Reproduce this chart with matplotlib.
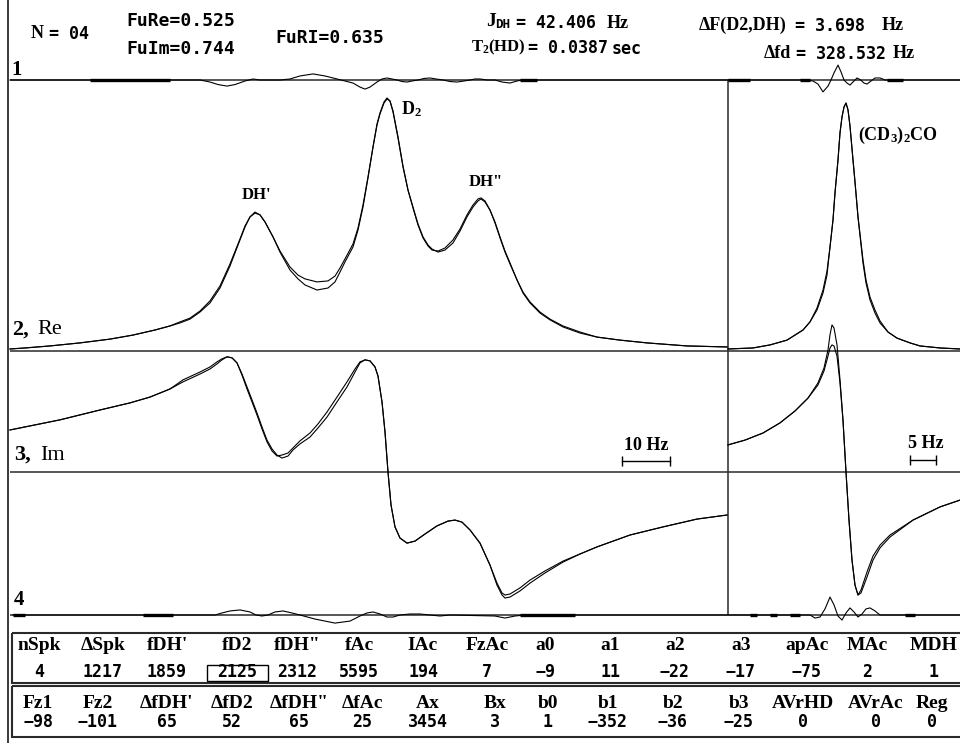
import matplotlib
matplotlib.use("Agg")
from matplotlib import pyplot as plt
from matplotlib.patches import Rectangle

# spectral point index, 2 points per screen column
re_idx = [1371, 1401, 1451, 1511, 1571, 1617, 1661, 1691, 1711, 1731,
          1751, 1771, 1791, 1811, 1831, 1841, 1851, 1861, 1871, 1881,
          1897, 1911, 1931, 1947, 1961, 1985, 2007, 2021, 2031, 2041,
          2057, 2067, 2077, 2087, 2097, 2105, 2111, 2119, 2125, 2131,
          2137, 2147, 2157, 2167, 2177, 2187, 2197, 2207, 2215, 2227,
          2241, 2257, 2271, 2285, 2297, 2307, 2313, 2321, 2331, 2341,
          2351, 2361, 2371, 2385, 2397, 2411, 2431, 2451, 2477, 2511,
          2545, 2591, 2645, 2725, 2805]
# Re spectrum, % of D2 peak
re_exp = [0.8, 1.2, 2.0, 3.2, 4.7, 6.3, 8.3, 9.9, 11.1, 12.6,
          15.4, 19.0, 24.9, 33.6, 43.9, 49.0, 53.0, 54.5, 53.8, 51.0,
          45.1, 39.1, 32.0, 28.5, 26.1, 24.1, 24.9, 27.3, 31.2, 35.2,
          41.1, 47.8, 56.9, 68.4, 80.6, 89.7, 94.1, 98.4, 100.0, 98.8,
          94.5, 84.2, 72.7, 63.6, 56.9, 50.2, 45.1, 41.9, 40.3, 39.1,
          39.9, 42.7, 47.4, 53.0, 56.9, 59.3, 60.1, 58.9, 55.7, 51.0,
          45.1, 39.5, 34.8, 28.1, 22.9, 19.0, 15.0, 12.3, 9.5, 7.1,
          5.5, 4.3, 3.2, 2.0, 1.6]
re_fit = [0.8, 1.2, 2.0, 3.2, 4.7, 6.3, 8.3, 9.9, 11.5, 13.0,
          15.8, 19.8, 25.7, 34.4, 44.3, 49.4, 53.0, 54.9, 53.8, 51.0,
          45.1, 39.5, 33.2, 30.0, 28.5, 27.3, 27.7, 29.6, 32.8, 36.4,
          42.3, 48.6, 57.7, 68.8, 80.6, 89.3, 93.7, 98.0, 99.6, 98.8,
          94.9, 84.6, 73.1, 63.6, 56.5, 49.8, 44.7, 41.5, 39.9, 39.5,
          40.7, 43.9, 48.2, 53.8, 57.7, 60.1, 60.5, 59.3, 55.7, 50.6,
          44.7, 39.1, 34.4, 28.1, 23.3, 19.4, 15.4, 12.6, 9.9, 7.5,
          5.5, 4.3, 3.2, 2.0, 1.6]

im_idx = [1371, 1411, 1471, 1551, 1611, 1651, 1691, 1717, 1751, 1771,
          1785, 1795, 1805, 1815, 1825, 1835, 1845, 1855, 1865, 1875,
          1885, 1895, 1905, 1915, 1927, 1937, 1951, 1971, 1987, 2005,
          2025, 2045, 2061, 2071, 2081, 2091, 2101, 2107, 2115, 2121,
          2127, 2133, 2141, 2151, 2165, 2181, 2201, 2225, 2247, 2261,
          2275, 2291, 2311, 2331, 2345, 2355, 2361, 2371, 2391, 2411,
          2441, 2477, 2511, 2545, 2611, 2677, 2745, 2805]
im_exp = [16.6, 18.2, 20.6, 24.5, 27.3, 29.6, 32.8, 36.4, 39.5, 41.5,
          43.5, 44.7, 45.5, 45.1, 43.1, 38.7, 33.6, 28.5, 23.3, 17.8,
          12.6, 9.1, 6.7, 5.5, 6.3, 8.7, 11.1, 13.8, 17.4, 21.7,
          27.7, 33.6, 39.5, 43.1, 44.3, 43.9, 41.5, 37.9, 27.7, 15.8,
          0.0, -13.0, -21.7, -26.1, -28.1, -27.3, -24.5, -21.3, -19.4, -19.0,
          -19.8, -22.9, -28.1, -36.8, -44.7, -48.6, -49.8, -49.4, -47.0, -43.9,
          -39.9, -35.6, -32.4, -29.6, -24.9, -21.7, -18.6, -17.0]
im_fit = [16.6, 18.2, 20.6, 24.5, 27.3, 29.6, 32.8, 35.6, 38.7, 40.7,
          42.7, 44.3, 45.5, 45.1, 43.1, 38.3, 32.8, 27.7, 22.5, 17.0,
          11.9, 8.3, 6.3, 6.7, 7.5, 9.5, 12.3, 15.4, 19.0, 23.7,
          29.6, 35.6, 40.7, 43.5, 44.3, 43.9, 41.5, 37.9, 27.7, 15.8,
          0.0, -13.0, -21.7, -26.1, -28.1, -27.3, -24.5, -21.3, -19.4, -19.0,
          -19.8, -22.9, -28.1, -36.8, -43.9, -47.8, -48.6, -48.2, -45.8, -42.7,
          -39.1, -35.2, -32.4, -29.6, -24.9, -21.7, -18.6, -17.0]

# acetone-d6 window
ac_re_idx = [5359, 5409, 5443, 5477, 5509, 5523, 5537, 5549, 5557, 5563,
             5569, 5573, 5579, 5583, 5587, 5591, 5595, 5599, 5603, 5609,
             5613, 5619, 5629, 5635, 5643, 5653, 5663, 5679, 5697, 5723,
             5743, 5783, 5823]
ac_re_exp = [0.8, 1.2, 2.4, 4.3, 8.3, 11.5, 16.2, 22.9, 30.0, 41.1,
             51.8, 62.5, 75.5, 86.2, 92.5, 96.4, 98.0, 95.3, 88.9, 75.5,
             66.8, 53.0, 34.8, 26.9, 20.2, 15.0, 11.1, 7.5, 5.1, 3.2,
             2.0, 1.2, 0.8]
ac_re_fit = [0.8, 1.2, 2.4, 4.3, 8.3, 11.5, 17.0, 24.1, 31.6, 41.1,
             51.8, 62.5, 75.5, 86.2, 92.5, 96.4, 98.0, 95.3, 88.9, 75.5,
             66.8, 53.0, 36.0, 28.1, 21.3, 16.2, 11.9, 7.5, 5.1, 3.2,
             2.0, 1.2, 0.8]

ac_im_idx = [5359, 5393, 5429, 5463, 5493, 5519, 5539, 5551, 5559, 5563,
             5567, 5571, 5577, 5583, 5589, 5595, 5601, 5607, 5613, 5619,
             5625, 5637, 5649, 5663, 5683, 5729, 5783, 5823]
ac_im_exp = [10.7, 12.6, 15.4, 19.4, 24.1, 29.2, 35.2, 41.1, 48.2, 54.2,
             58.1, 56.9, 50.2, 36.4, 20.6, 0.0, -19.0, -34.8, -44.7, -48.6,
             -47.8, -41.5, -34.8, -30.0, -25.7, -19.0, -13.8, -11.1]
ac_im_fit = [10.7, 12.6, 15.4, 19.4, 24.1, 29.2, 34.4, 39.9, 45.8, 49.0,
             50.2, 49.8, 45.8, 35.2, 20.2, 0.0, -19.0, -34.8, -44.7, -48.6,
             -46.6, -39.5, -33.2, -28.9, -24.9, -19.0, -13.8, -11.1]

# residuals (exp - fit), same % scale
res_re_idx = [1371, 1751, 1771, 1787, 1805, 1821, 1841, 1857, 1871, 1911,
              1931, 1951, 1977, 2001, 2025, 2041, 2057, 2071, 2081, 2091,
              2105, 2115, 2125, 2135, 2145, 2155, 2165, 2175, 2187, 2199,
              2211, 2223, 2237, 2251, 2265, 2279, 2291, 2301, 2311, 2325,
              2341, 2355, 2371, 2385, 2395, 2805]
res_re = [0, 0, -0.8, -1.8, -2.4, -1.8, -0.4, 0.4, 0, 0,
          0.4, 1.6, 2.4, 1.6, 0.4, -0.4, -1.2, -2.8, -3.6, -2.8,
          -0.8, 0.4, 0.8, 0.4, 0, -0.6, -0.8, -0.4, 0, 0.6,
          0.8, 0.4, 0, -0.6, -0.8, -0.4, 0, 0.4, 0.4, 0,
          0, -0.8, -1.2, -0.4, 0, 0]
res_im_idx = [1377, 1711, 1781, 1795, 1811, 1831, 1851, 1863, 1875, 1887,
              1901, 1917, 1935, 1951, 1981, 2021, 2051, 2071, 2085, 2097,
              2111, 2125, 2137, 2151, 2171, 2191, 2211, 2231, 2251, 2341,
              2361, 2381, 2401, 2805]
res_im = [0, 0, 0, 0.8, 1.6, 2.0, 1.2, 0, -0.4, 0,
          1.2, 1.6, 0.8, 0, -1.6, -3.2, -2.4, -0.4, 0.8, 1.2,
          0.4, -0.8, -0.8, 0, 0.4, 0.4, 0, -0.4, 0, -0.4,
          -1.2, -0.4, 0, 0]
ac_res_re_idx = [5359, 5513, 5529, 5539, 5549, 5559, 5565, 5571, 5579, 5585,
                 5591, 5597, 5603, 5609, 5617, 5623, 5631, 5637, 5645, 5653,
                 5663, 5673, 5823]
ac_res_re = [0, 0, -0.4, -1.6, -4.7, -2.4, 0, 2.8, 5.9, 3.2,
             0, -1.2, -2.0, -0.8, 0.8, 0.2, -1.2, -1.6, -0.4, 0.8,
             0.8, 0, 0]
ac_res_im_idx = [5359, 5523, 5533, 5543, 5553, 5563, 5571, 5579, 5587, 5595,
                 5603, 5611, 5619, 5627, 5635, 5643, 5653, 5663, 5823]
ac_res_im = [0, 0, -1.2, -0.8, 2.4, 7.1, 4.0, -0.4, -2.0, 0.8,
             2.8, 1.2, -0.8, 0.4, 2.4, 2.8, 1.6, 0, 0]

# baseline regions (thick marks on residual lines)
base_re = [(1531, 1691), (2391, 2425)]
base_im = [(1377, 1401), (1637, 1697), (2391, 2501)]
ac_base_re = [(5359, 5403), (5503, 5523), (5677, 5709)]
ac_base_im = [(5403, 5417), (5443, 5457), (5483, 5503), (5713, 5733)]

# parameter table
head1 = ["nSpk", "\u0394Spk", "fDH'", "fD2", 'fDH"', "fAc", "IAc", "FzAc",
         "a0", "a1", "a2", "a3", "apAc", "MAc", "MDH"]
vals1 = ["4", "1217", "1859", "2125", "2312", "5595", "194", "7",
         "\u22129", "11", "\u221222", "\u221217", "\u221275", "2", "1"]
head2 = ["Fz1", "Fz2", "\u0394fDH'", "\u0394fD2", '\u0394fDH"', "\u0394fAc", "Ax", "Bx",
         "b0", "b1", "b2", "b3", "AVrHD", "AVrAc", "Reg"]
vals2 = ["\u221298", "\u2212101", "65", "52", "65", "25", "3454", "3",
         "1", "\u2212352", "\u221236", "\u221225", "0", "0", "0"]

W, H = 960, 743
SERIF = "Liberation Serif"
MONO = "DejaVu Sans Mono"
LW = 0.8


def px_axes(fig, x0, y0, x1, y1, xlim, ylim):
    ax = fig.add_axes([x0 / W, 1 - y1 / H, (x1 - x0) / W, (y1 - y0) / H])
    ax.set_xlim(*xlim)
    ax.set_ylim(*ylim)
    ax.axis("off")
    ax.patch.set_alpha(0)
    return ax


def curves(ax, x, *ys):
    for y in ys:
        ax.plot(x, y, color="black", lw=LW, clip_on=False)


def resid(ax, x, y, regions):
    ax.plot(x, y, color="black", lw=LW, clip_on=False)
    for a, b in regions:
        ax.plot([a, b], [0, 0], color="black", lw=2.4, solid_capstyle="butt")


def main():
    plt.rcParams["mathtext.fontset"] = "custom"
    plt.rcParams["mathtext.rm"] = SERIF + ":bold"
    plt.rcParams["mathtext.it"] = SERIF + ":bold"
    plt.rcParams["mathtext.bf"] = SERIF + ":bold"

    fig = plt.figure(figsize=(W / 100, H / 100), dpi=100)
    fig.patch.set_facecolor("white")

    frame = fig.add_axes([0, 0, 1, 1])
    frame.set_xlim(0, W)
    frame.set_ylim(H, 0)
    frame.axis("off")

    fc = "#2a2a2a"
    frame.plot([7.5, 7.5], [0, H], color=fc, lw=1.3)
    frame.hlines([80, 351, 472, 615], 10, W, color=fc, lw=1.1)
    frame.vlines(728, 80, 615, color=fc, lw=1.1)
    for y0, y1 in [(633, 683), (686, 737)]:
        frame.add_patch(Rectangle((12, y0), W, y1 - y0, fill=False, ec=fc, lw=1.5))
    frame.add_patch(Rectangle((207, 665), 61, 16, fill=False, ec="black", lw=1.0))

    xl = (1371, 2807)
    xr = (5359, 5823)
    re_lim = (0, 107.1)
    im_lim = (-56.5, 47.8)
    res_lim = (-11.86, 11.86)

    ax = px_axes(fig, 10, 80, 728, 351, xl, re_lim)
    curves(ax, re_idx, re_exp, re_fit)
    ax = px_axes(fig, 10, 351, 728, 615, xl, im_lim)
    curves(ax, im_idx, im_exp, im_fit)
    ax = px_axes(fig, 10, 50, 728, 110, xl, res_lim)
    resid(ax, res_re_idx, res_re, base_re)
    ax = px_axes(fig, 10, 585, 728, 645, xl, res_lim)
    resid(ax, res_im_idx, res_im, base_im)

    ax = px_axes(fig, 728, 80, 960, 351, xr, re_lim)
    curves(ax, ac_re_idx, ac_re_exp, ac_re_fit)
    ax = px_axes(fig, 728, 351, 960, 615, xr, im_lim)
    curves(ax, ac_im_idx, ac_im_exp, ac_im_fit)
    ax = px_axes(fig, 728, 50, 960, 110, xr, res_lim)
    resid(ax, ac_res_re_idx, ac_res_re, ac_base_re)
    ax = px_axes(fig, 728, 585, 960, 645, xr, res_lim)
    resid(ax, ac_res_im_idx, ac_res_im, ac_base_im)

    # header annotations
    def t(x, y, s, fam=SERIF, size=12, weight="bold", ha="left"):
        frame.text(x, y, s, family=fam, fontsize=size, fontweight=weight,
                   ha=ha, va="center", color="black")

    t(31, 33, "N", size=13)
    t(49, 34, "= 04", MONO, 12)
    t(126, 21, "FuRe=0.525", MONO, 13)
    t(126, 49, "FuIm=0.744", MONO, 13)
    t(275, 38, "FuRI=0.635", MONO, 13)
    t(486, 22, "J", size=14)
    t(495, 24, "DH", MONO, 9)
    t(516, 23, "= 42.406", MONO, 12)
    t(607, 23, "Hz", size=13)
    t(471, 47, "T$_2$(HD)", size=12)
    t(528, 48, "= 0.0387", MONO, 12)
    t(612, 49, "sec", MONO, 12)
    t(699, 25, "\u0394F(D2,DH)", size=13)
    t(795, 26, "= 3.698", MONO, 12)
    t(882, 25, "Hz", size=13)
    t(764, 53, "\u0394fd", size=13)
    t(796, 54, "= 328.532", MONO, 12)
    t(893, 53, "Hz", size=13)

    # panel labels
    t(11, 70, "1", size=15)
    t(12, 330, "2,", size=16)
    t(37, 330, "Re", size=16, weight="normal")
    t(14, 455, "3,", size=16)
    t(40, 455, "Im", size=16, weight="normal")
    t(14, 600, "4", size=15)
    t(242, 195, "DH'", size=12)
    t(401, 109, "D$_2$", size=13)
    t(469, 182, 'DH"', size=12)
    t(858, 135, "(CD$_3$)$_2$CO", size=13)

    # scale bars
    t(646, 446, "10 Hz", size=13, ha="center")
    frame.plot([622, 670], [461, 461], color="black", lw=1.0, marker="|", ms=7, mew=1.0)
    t(926, 443, "5 Hz", size=13, ha="center")
    frame.plot([910, 936], [460, 460], color="black", lw=1.0, marker="|", ms=7, mew=1.0)

    # parameter table
    cols1 = [39, 103, 167, 237, 297, 359, 423, 487, 545, 610, 675, 741, 807, 867, 934]
    cols2 = [38, 98, 167, 232, 299, 362, 428, 495, 548, 608, 673, 739, 803, 876, 932]
    for x, h, v in zip(cols1, head1, vals1):
        t(x, 646, h, size=14, ha="center")
        t(x, 672, v, MONO, 12, ha="center")
    for x, h, v in zip(cols2, head2, vals2):
        t(x, 704, h, size=14, ha="center")
        t(x, 722, v, MONO, 12, ha="center")

    fig.savefig("out.png", dpi=100, facecolor="white")


if __name__ == "__main__":
    main()
